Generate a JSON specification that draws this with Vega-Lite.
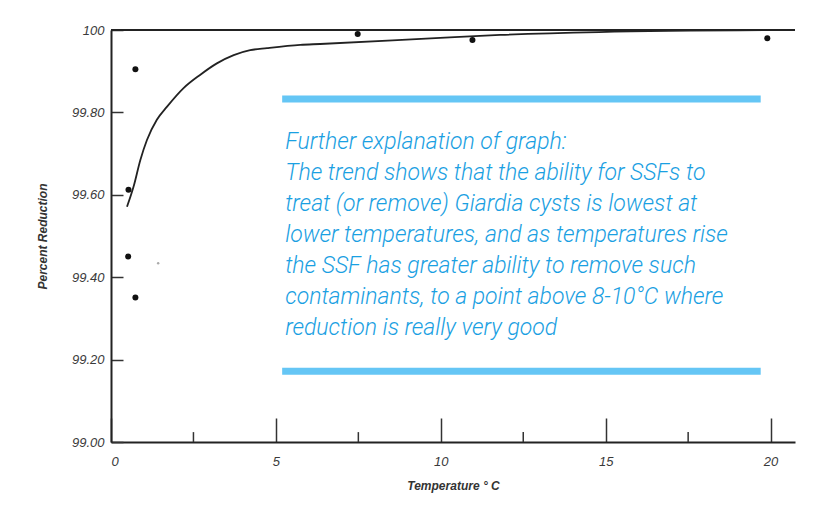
{
  "$schema": "https://vega.github.io/schema/vega-lite/v6.json",
  "autosize": {"type": "none"},
  "width": 684,
  "height": 412,
  "padding": {"left": 111, "top": 30, "right": 21, "bottom": 73},
  "background": "white",
  "config": {
    "view": {"stroke": null},
    "axis": {"grid": false, "labelFont": "Liberation Sans", "labelFontStyle": "italic", "labelColor": "#3a3a3a", "titleFont": "Liberation Sans", "titleFontStyle": "italic", "titleColor": "#333", "domainColor": "#222", "tickColor": "#333"}
  },
  "datasets": {
    "points": [
      {"temp": 0.53, "pct": 99.612},
      {"temp": 0.74, "pct": 99.905},
      {"temp": 0.52, "pct": 99.450},
      {"temp": 0.74, "pct": 99.351},
      {"temp": 7.48, "pct": 99.990},
      {"temp": 10.96, "pct": 99.976},
      {"temp": 19.9, "pct": 99.980}
    ],
    "curve": [
      {"temp": 0.485, "pct": 99.571},
      {"temp": 0.685, "pct": 99.620},
      {"temp": 0.888, "pct": 99.684},
      {"temp": 1.09, "pct": 99.733},
      {"temp": 1.39, "pct": 99.782},
      {"temp": 1.70, "pct": 99.814},
      {"temp": 2.20, "pct": 99.859},
      {"temp": 2.70, "pct": 99.891},
      {"temp": 3.21, "pct": 99.919},
      {"temp": 3.72, "pct": 99.939},
      {"temp": 4.22, "pct": 99.951},
      {"temp": 4.73, "pct": 99.956},
      {"temp": 5.74, "pct": 99.964},
      {"temp": 6.34, "pct": 99.966},
      {"temp": 9.98, "pct": 99.981},
      {"temp": 11.8, "pct": 99.988},
      {"temp": 14.8, "pct": 99.995},
      {"temp": 20.74, "pct": 100}
    ],
    "minor": [
      {"temp": 2.5}, {"temp": 7.5}, {"temp": 12.5}, {"temp": 17.5}
    ],
    "bands": [
      {"pct": 99.8325},
      {"pct": 99.172}
    ],
    "note": [
      {"temp": 5.28, "pct": 99.728, "text": "Further explanation of graph:\nThe trend shows that the ability for SSFs to\ntreat (or remove) Giardia cysts is lowest at\nlower temperatures, and as temperatures rise\nthe SSF has greater ability to remove such\ncontaminants, to a point above 8-10°C where\nreduction is really very good"}
    ]
  },
  "layer": [
    {
      "data": {"values": [{"a": 1}]},
      "mark": {"type": "rule", "color": "#222", "strokeWidth": 2},
      "encoding": {
        "x": {"datum": 0, "type": "quantitative", "scale": {"domain": [0, 20.74], "nice": false}, "axis": {"values": [0, 5, 10, 15, 20], "title": "Temperature ° C", "titleFontSize": 12, "titlePadding": 12, "labelFontSize": 13, "tickSize": -24, "tickWidth": 1.5, "labelPadding": 37, "domainWidth": 2}},
        "x2": {"datum": 20.74},
        "y": {"datum": 100, "type": "quantitative", "scale": {"domain": [99, 100], "nice": false, "zero": false}, "axis": {"values": [99, 99.2, 99.4, 99.6, 99.8, 100], "labelExpr": "datum.value == 100 ? '100' : format(datum.value, '.2f')", "title": "Percent Reduction", "titleFontSize": 12, "titleFontWeight": "bold", "titlePadding": 22, "labelFontSize": 13, "tickSize": -12, "tickWidth": 1.5, "labelPadding": 19, "domainWidth": 2}}
      }
    },
    {
      "data": {"name": "minor"},
      "mark": {"type": "rule", "color": "#333", "strokeWidth": 1.5},
      "encoding": {
        "x": {"field": "temp", "type": "quantitative"},
        "y": {"datum": 99},
        "y2": {"datum": 99.024}
      }
    },
    {
      "data": {"name": "curve"},
      "mark": {"type": "line", "color": "#222", "strokeWidth": 1.8, "interpolate": "monotone"},
      "encoding": {
        "x": {"field": "temp", "type": "quantitative"},
        "y": {"field": "pct", "type": "quantitative"}
      }
    },
    {
      "data": {"name": "points"},
      "mark": {"type": "circle", "color": "#111", "opacity": 1, "size": 36},
      "encoding": {
        "x": {"field": "temp", "type": "quantitative"},
        "y": {"field": "pct", "type": "quantitative"}
      }
    },
    {
      "data": {"values": [{"temp": 1.43, "pct": 99.434}]},
      "mark": {"type": "circle", "color": "#aaa", "opacity": 1, "size": 6},
      "encoding": {
        "x": {"field": "temp", "type": "quantitative"},
        "y": {"field": "pct", "type": "quantitative"}
      }
    },
    {
      "data": {"name": "bands"},
      "mark": {"type": "rule", "color": "#65c6f5", "strokeWidth": 7},
      "encoding": {
        "x": {"datum": 5.19},
        "x2": {"datum": 19.70},
        "y": {"field": "pct", "type": "quantitative"}
      }
    },
    {
      "data": {"name": "note"},
      "mark": {"type": "text", "align": "left", "baseline": "middle", "font": "Roboto", "fontStyle": "italic", "fontWeight": 300, "fontSize": 23, "lineHeight": 31, "lineBreak": "\n", "color": "#1aa0e2"},
      "encoding": {
        "x": {"field": "temp", "type": "quantitative"},
        "y": {"field": "pct", "type": "quantitative"},
        "text": {"field": "text"}
      }
    }
  ]
}
